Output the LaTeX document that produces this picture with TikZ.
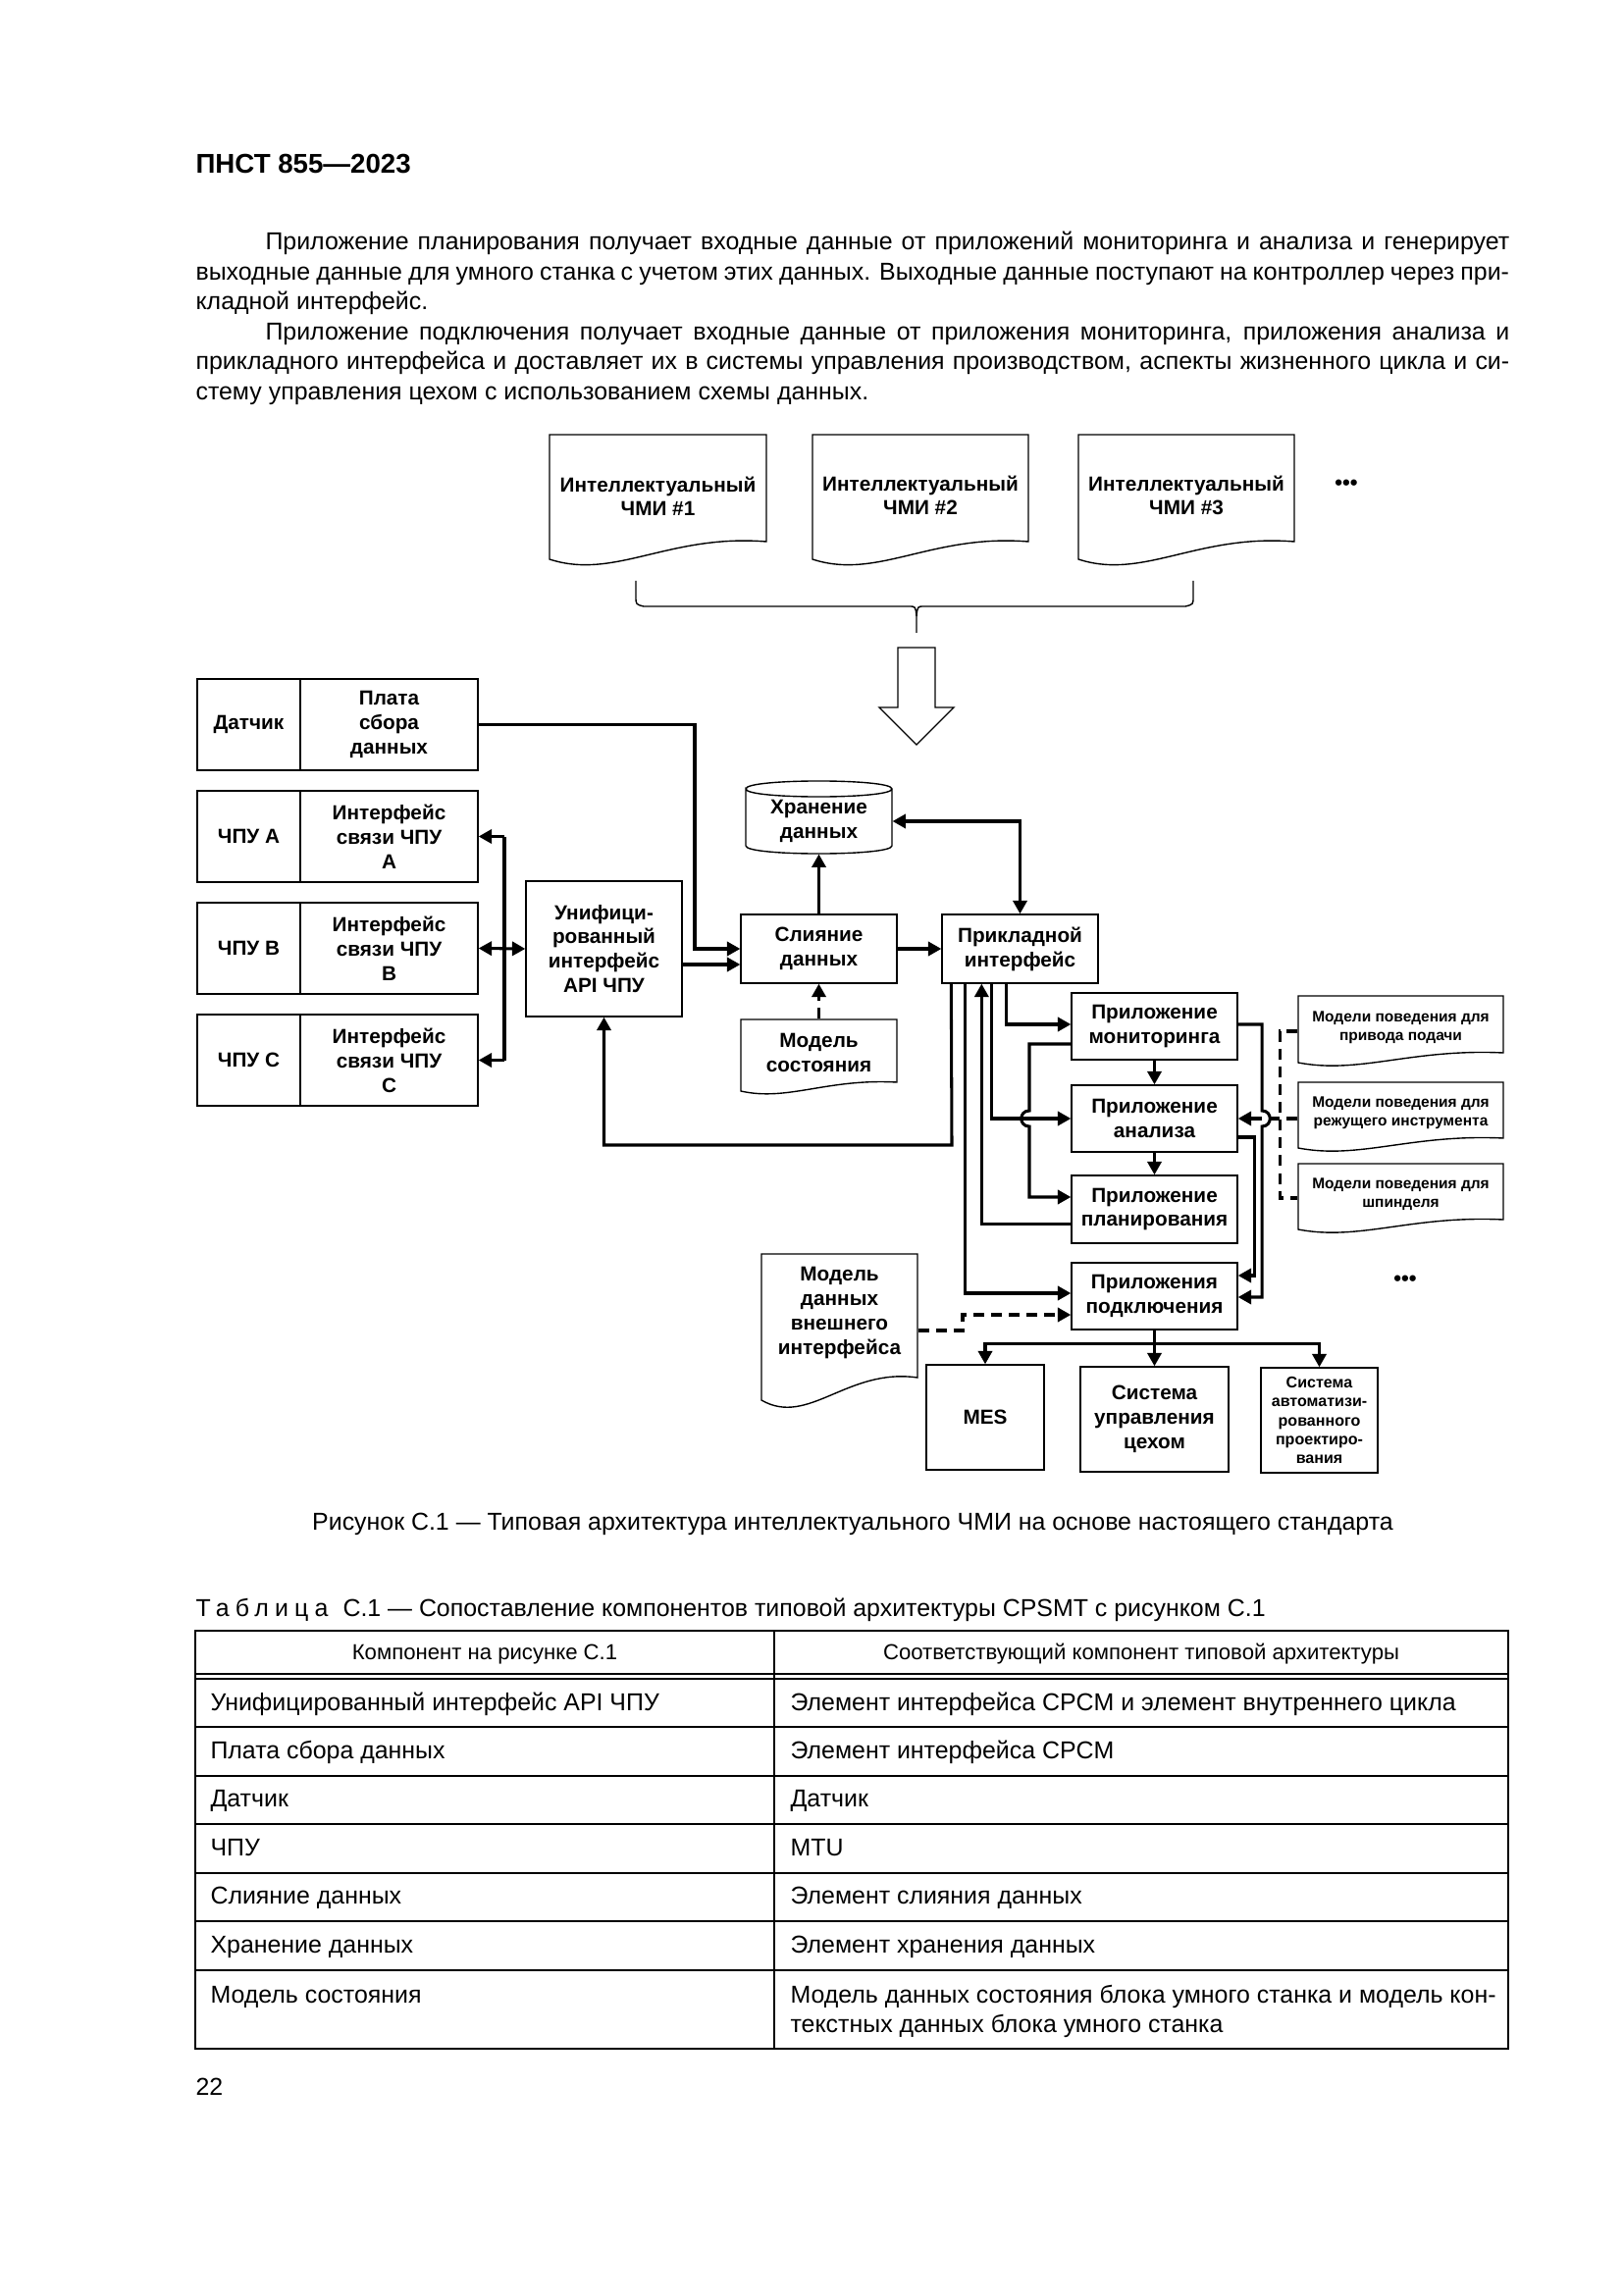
\documentclass[tikz,border=0pt]{standalone}
\usepackage{fontspec}
\setmainfont{Liberation Sans}
\usetikzlibrary{arrows.meta,calc}
\def\PX{0.127mm}
\newcommand\BodyFnt{\fontsize{9}{11}\selectfont\spaceskip=0.28em plus 0.3em minus 0.1em\relax}
\newcommand\DocShp[5]{%
 \draw[shp] (#1,{#4+#5}) -- (#1,#2) -- (#3,#2) -- (#3,#4) .. controls ({#1+0.55*(#3-#1)},{#4-#5*0.45}) and ({#1+0.3*(#3-#1)},{#4+#5*2.2}) .. (#1,{#4+#5}) -- cycle;}
\tikzset{
 sz/.style 2 args={minimum width=#1*\PX, minimum height=#2*\PX},
 txt/.style={inner sep=0pt, align=center, font=\bfseries\fontsize{7.5}{9}\selectfont},
 box/.style={txt, draw, line width=0.5pt},
 small/.style={inner sep=0pt, align=center, font=\bfseries\fontsize{5.6}{6.9}\selectfont},
 shp/.style={line width=0.5pt},
 conn/.style={line width=1.1pt},
 arr/.style={conn, -{Triangle[length=1.7mm,width=1.8mm]}},
 dbl/.style={conn, {Triangle[length=1.7mm,width=1.8mm]}-{Triangle[length=1.7mm,width=1.8mm]}},
 dsh/.style={dash pattern=on 1.4mm off 0.9mm},
 body/.style={inner sep=0pt, anchor=base west, font=\BodyFnt},
 tab/.style={inner sep=0pt, anchor=base west, font=\fontsize{9}{11}\selectfont},
}
\begin{document}
\begin{tikzpicture}[x=0.127mm,y=-0.127mm]
\fill[white] (0,0) rectangle (1654,2339);
\useasboundingbox (0,0) rectangle (1654,2339);

% header and text
\node[anchor=base west, inner sep=0pt, font=\bfseries\fontsize{10}{12}\selectfont] (hdr) at (199,177) {ПНСТ 855—2023};
\node[body] (p1a) at (270,255) {\makebox[161.0mm][s]{Приложение планирования получает входные данные от приложений мониторинга и анализа и генерирует}};
\node[body] (p1b) at (199,286) {\makebox[170.0mm][s]{выходные данные для умного станка с учетом этих данных. Выходные данные поступают на контроллер через при-}};
\node[body] (p1c) at (199,316) {кладной интерфейс.};
\node[body] (p2a) at (270,347) {\makebox[161.0mm][s]{Приложение подключения получает входные данные от приложения мониторинга, приложения анализа и}};
\node[body] (p2b) at (199,377) {\makebox[170.0mm][s]{прикладного интерфейса и доставляет их в системы управления производством, аспекты жизненного цикла и си-}};
\node[body] (p2c) at (199,408) {стему управления цехом с использованием схемы данных.};

% top documents
\DocShp{560}{443}{781}{552}{18}
\DocShp{828}{443}{1048}{552}{18}
\DocShp{1099}{443}{1319}{552}{18}
\node[txt, font=\bfseries\fontsize{7.5}{8.5}\selectfont] (hmi1) at (670.5,506) {Интеллектуальный\\ЧМИ \#1};
\node[txt, font=\bfseries\fontsize{7.5}{8.5}\selectfont] (hmi2) at (938,505) {Интеллектуальный\\ЧМИ \#2};
\node[txt, font=\bfseries\fontsize{7.5}{8.5}\selectfont] (hmi3) at (1209,505) {Интеллектуальный\\ЧМИ \#3};
\node[inner sep=0pt, font=\bfseries\fontsize{8}{9}\selectfont] (dots1) at (1372,494) {•••};

% brace
\draw[shp] (648,592) -- (648,608) .. controls (648,616) .. (656,618) -- (926,618) .. controls (933,618) .. (934,628) -- (934,645);
\draw[shp] (1216,592) -- (1216,608) .. controls (1216,616) .. (1208,618) -- (942,618) .. controls (935,618) .. (934,628);
% hollow arrow
\draw[shp, fill=white] (915,660) -- (953,660) -- (953,721) -- (972,721) -- (934,759) -- (896,721) -- (915,721) -- cycle;

% left column
\node[box, sz={105}{93}] (sens) at (253.5,738.5) {Датчик};
\node[box, sz={181}{93}] (plate) at (396.5,738.5) {Плата\\сбора\\данных};
\node[box, sz={105}{93}] (nA) at (253.5,852.5) {ЧПУ А};
\node[box, sz={181}{93}] (cA) at (396.5,852.5) {Интерфейс\\связи ЧПУ\\А};
\node[box, sz={105}{93}] (nB) at (253.5,966.5) {ЧПУ В};
\node[box, sz={181}{93}] (cB) at (396.5,966.5) {Интерфейс\\связи ЧПУ\\В};
\node[box, sz={105}{93}] (nC) at (253.5,1080.5) {ЧПУ С};
\node[box, sz={181}{93}] (cC) at (396.5,1080.5) {Интерфейс\\связи ЧПУ\\С};
\node[box, sz={159}{138}] (uni) at (615.5,967) {Унифици-\\рованный\\интерфейс\\API ЧПУ};

% storage cylinder
\draw[shp] (760,804) .. controls (760,793.3) and (909,793.3) .. (909,804) .. controls (909,814.7) and (760,814.7) .. (760,804) -- (760,862) .. controls (760,872.7) and (909,872.7) .. (909,862) -- (909,804);
\node[txt, sz={149}{66}] (stor) at (834.5,837) {Хранение\\данных};

\node[box, sz={159}{70}] (merge) at (834.5,967) {Слияние\\данных};
\node[box, sz={159}{70}] (app) at (1039.5,967) {Прикладной\\интерфейс};
\DocShp{755}{1039}{914}{1103}{9}
\node[txt, sz={159}{68}] (state) at (834.5,1073) {Модель\\состояния};

\node[box, sz={169}{68}] (mon) at (1176.5,1046) {Приложение\\мониторинга};
\node[box, sz={169}{68}] (ana) at (1176.5,1140) {Приложение\\анализа};
\node[box, sz={169}{69}] (plan) at (1176.5,1232.5) {Приложение\\планирования};
\node[box, sz={169}{68}] (conn) at (1176.5,1321) {Приложения\\подключения};

% behaviour models
\DocShp{1323}{1015}{1532}{1073}{10}
\DocShp{1323}{1103}{1532}{1160}{10}
\DocShp{1323}{1186}{1532}{1243}{10}
\node[small, sz={209}{64}] (bm1) at (1427.5,1047) {Модели поведения для\\привода подачи};
\node[small, sz={209}{64}] (bm2) at (1427.5,1134) {Модели поведения для\\режущего инструмента};
\node[small, sz={209}{64}] (bm3) at (1427.5,1217) {Модели поведения для\\шпинделя};

% external model
\DocShp{776}{1278}{935}{1404}{23}
\node[txt, sz={159}{120}] (ext) at (855.5,1338) {Модель\\данных\\внешнего\\интерфейса};

% outputs
\node[box, sz={120}{107}] (mes) at (1004,1444.5) {MES};
\node[box, sz={151}{107}] (sys) at (1176.5,1446.5) {Система\\управления\\цехом};
\node[box, sz={119}{107}, font=\bfseries\fontsize{5.8}{6.9}\selectfont] (sapr) at (1344.5,1447.5) {Система\\автоматизи-\\рованного\\проектиро-\\вания};
\node[inner sep=0pt, font=\bfseries\fontsize{8}{9}\selectfont] (dots2) at (1432,1305) {•••};

% connectors
\coordinate (bus) at (514,0);
\draw[arr] (plate.east) -| (708,967) -- (merge.west);
\draw[arr] ($(uni.east)+(0,16)$) -- ($(merge.west)+(0,16)$);
\draw[conn] (cA.east -| bus) -- (cC.east -| bus);
\draw[arr] (cA.east -| bus) -- (cA.east);
\draw[arr] (cC.east -| bus) -- (cC.east);
\draw[dbl] (cB.east) -- (uni.west);
\draw[arr] (merge.north) -- (stor.south);
\draw[arr,dsh] (state.north) -- (merge.south);
\draw[arr] (merge.east) -- (app.west);
\draw[dbl] (stor.east) -| (app.north);
\draw[arr] ($(app.south west)+(10,0)$) -- (970,1167) -| (uni.south);
\draw[arr] ($(app.south west)+(24,0)$) |- ($(conn.west)+(0,-3)$);
\draw[arr] ($(plan.west)+(0,15)$) -| ($(app.south west)+(41,0)$);
\draw[arr] ($(app.south west)+(51,0)$) |- (ana.west);
\draw[arr] ($(app.south west)+(66,0)$) |- ($(mon.west)+(0,-2)$);
\draw[arr] ($(mon.west)+(0,18)$) -- (1049,1064) -- (1049,1132) .. controls (1038,1132) and (1038,1148) .. (1049,1148) -- (1049,1220) -- ($(plan.west)+(0,-12.5)$);
\draw[arr] (mon.south) -- (ana.north);
\draw[arr] (ana.south) -- (plan.north);
\draw[arr] ($(mon.east)+(0,-2)$) -- (1286,1044) -- (1286,1132) .. controls (1297,1132) and (1297,1148) .. (1286,1148) -- (1286,1322) -- ($(conn.east)+(0,1)$);
\draw[arr] ($(ana.east)+(0,19)$) -- (1278,1159) -- (1278,1300) -- ($(conn.east)+(0,-21)$);
\draw[conn,dsh] ($(bm1.west)+(0,4)$) -- (1304,1051) -- (1304,1221) -- ($(bm3.west)+(0,4)$);
\draw[arr,dsh] ($(bm2.west)+(0,6)$) -- (ana.east);
\draw[arr,dsh] ($(ext.east)+(0,18)$) -- (981,1356) -- (981,1340) -- ($(conn.west)+(0,19)$);
\draw[arr] (conn.south) -- ++(0,14) -| (mes.north);
\draw[arr] (conn.south) -- ++(0,14) -| (sapr.north);
\draw[arr] (conn.south) -- (sys.north);

% captions
\node[anchor=base, inner sep=0pt, font=\fontsize{9}{11}\selectfont] (cap) at (869,1559) {Рисунок С.1 — Типовая архитектура интеллектуального ЧМИ на основе настоящего стандарта};
\node[tab] (tcap) at (199,1647) {{\addfontfeature{LetterSpace=25}Таблица}\hspace{0.6em}С.1 — Сопоставление компонентов типовой архитектуры CPSMT с рисунком С.1};

% table
\draw[line width=1pt] (199,1662) rectangle (1537,2088);
\draw[line width=0.7pt] (199,1706) -- (1537,1706);
\draw[line width=0.7pt] (199,1711) -- (1537,1711);
\foreach \yy in {1760,1810,1859,1909,1958,2008} \draw[line width=1pt] (199,\yy) -- (1537,\yy);
\draw[line width=0.7pt] (789,1662) -- (789,2088);
\node[anchor=base, inner sep=0pt, font=\fontsize{8}{10}\selectfont] (th1) at (494,1691) {Компонент на рисунке С.1};
\node[anchor=base, inner sep=0pt, font=\fontsize{8}{10}\selectfont] (th2) at (1163,1691) {Соответствующий компонент типовой архитектуры};
\node[tab] (l1) at (214,1743) {Унифицированный интерфейс API ЧПУ};
\node[tab] (r1) at (805,1743) {Элемент интерфейса CPCM и элемент внутреннего цикла};
\node[tab] (l2) at (214,1792) {Плата сбора данных};
\node[tab] (r2) at (805,1792) {Элемент интерфейса CPCM};
\node[tab] (l3) at (214,1841) {Датчик};
\node[tab] (r3) at (805,1841) {Датчик};
\node[tab] (l4) at (214,1891) {ЧПУ};
\node[tab] (r4) at (805,1891) {MTU};
\node[tab] (l5) at (214,1940) {Слияние данных};
\node[tab] (r5) at (805,1940) {Элемент слияния данных};
\node[tab] (l6) at (214,1990) {Хранение данных};
\node[tab] (r6) at (805,1990) {Элемент хранения данных};
\node[tab] (l7) at (214,2041) {Модель состояния};
\node[tab] (r7a) at (805,2041) {Модель данных состояния блока умного станка и модель кон-};
\node[tab] (r7b) at (805,2071) {текстных данных блока умного станка};
\node[tab] (pg) at (199,2135) {22};
\end{tikzpicture}
\end{document}
